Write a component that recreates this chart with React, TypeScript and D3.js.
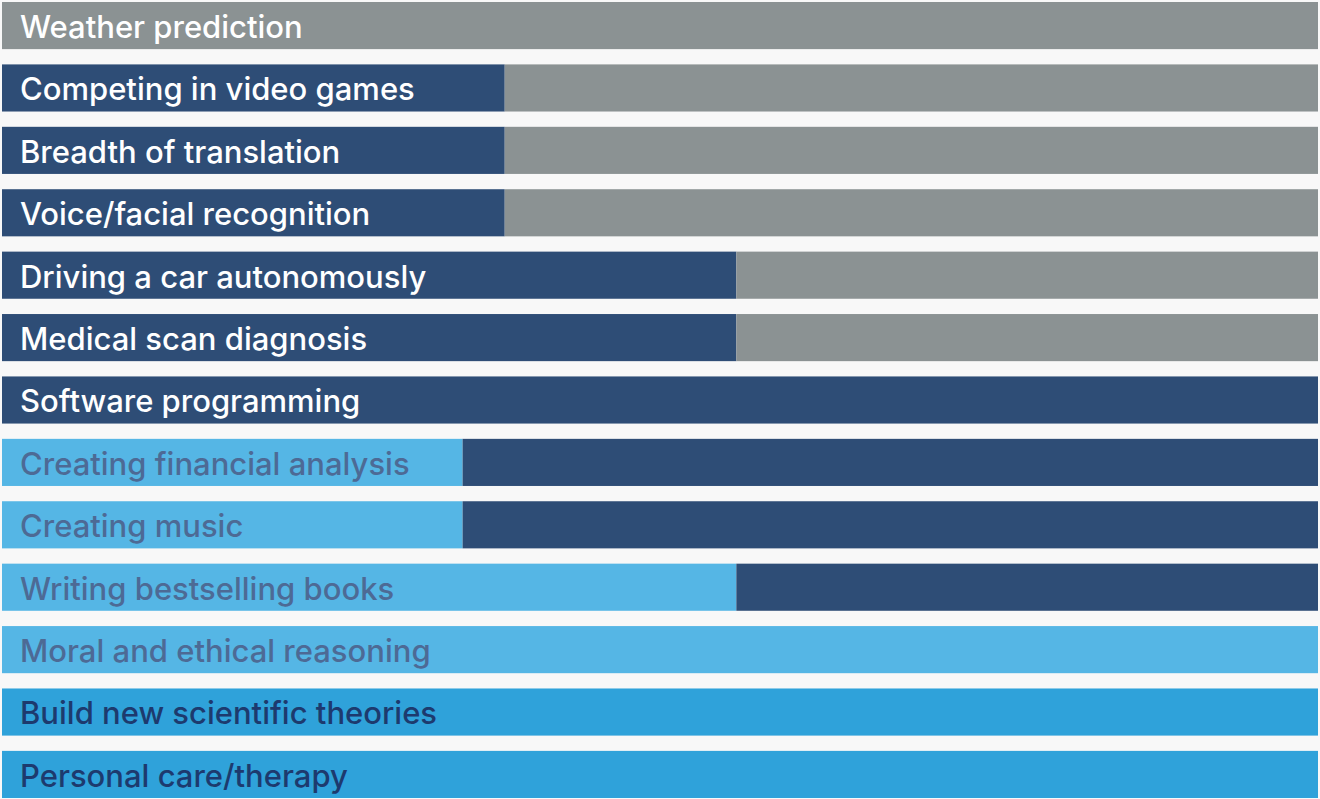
import { useRef, useEffect } from 'react';
import * as d3 from 'd3';

// tasks, top to bottom
const tasks = [
  'Weather prediction',
  'Competing in video games',
  'Breadth of translation',
  'Voice/facial recognition',
  'Driving a car autonomously',
  'Medical scan diagnosis',
  'Software programming',
  'Creating financial analysis',
  'Creating music',
  'Writing bestselling books',
  'Moral and ethical reasoning',
  'Build new scientific theories',
  'Personal care/therapy',
];

// status on the left part of the bar, status after the switch point, switch point (0-100)
const leftStatus = ['done', 'near', 'near', 'near', 'near', 'near', 'near', 'mid', 'mid', 'mid', 'mid', 'far', 'far'];
const rightStatus = ['done', 'done', 'done', 'done', 'done', 'done', 'near', 'near', 'near', 'near', 'mid', 'far', 'far'];
const switchAt = [0, 38.2, 38.2, 38.2, 55.8, 55.8, 100, 35, 35, 55.8, 100, 100, 100];

const statusKeys = ['done', 'near', 'mid', 'far'];
const statusFill = ['#8b9293', '#2e4d76', '#55b6e5', '#2fa2da'];
const statusText = ['#ffffff', '#ffffff', '#4d6a95', '#1d3a6e'];

export default function App() {
  const svgRef = useRef<SVGSVGElement>(null);
  const width = 1320;
  const height = 799;

  useEffect(() => {
    if (!svgRef.current) return;
    const svg = d3.select(svgRef.current);
    svg.selectAll('*').remove();

    const x = d3.scaleLinear().domain([0, 100]).range([2, 1318]);
    const y = d3.scaleBand<string>().domain(tasks).range([2, 798]).paddingInner(0.245).paddingOuter(0);
    const fill = d3.scaleOrdinal<string, string>().domain(statusKeys).range(statusFill);
    const textColor = d3.scaleOrdinal<string, string>().domain(statusKeys).range(statusText);

    const segs = tasks.flatMap((t, i) => [
      { task: t, from: 0, to: switchAt[i], status: leftStatus[i] },
      { task: t, from: switchAt[i], to: 100, status: rightStatus[i] },
    ]).filter((d) => d.to > d.from);

    svg.append('g')
      .selectAll('rect')
      .data(segs)
      .join('rect')
      .attr('x', (d) => x(d.from))
      .attr('width', (d) => x(d.to) - x(d.from))
      .attr('y', (d) => y(d.task)!)
      .attr('height', y.bandwidth())
      .attr('fill', (d) => fill(d.status));

    svg.append('g')
      .selectAll('text')
      .data(tasks)
      .join('text')
      .attr('x', 20)
      .attr('y', (d) => y(d)! + y.bandwidth() / 2)
      .attr('dy', '0.4em')
      .attr('font-family', 'Inter, "Open Sans", sans-serif')
      .attr('font-weight', 500)
      .attr('font-size', '31px')
      .attr('fill', (d, i) => textColor(leftStatus[i]))
      .text((d) => d);
  }, []);

  return (
    <div style={{ position: 'fixed', left: 0, top: 0, width, height, background: '#f8f8f8' }}>
      <svg ref={svgRef} width={width} height={height} style={{ display: 'block' }} />
    </div>
  );
}
